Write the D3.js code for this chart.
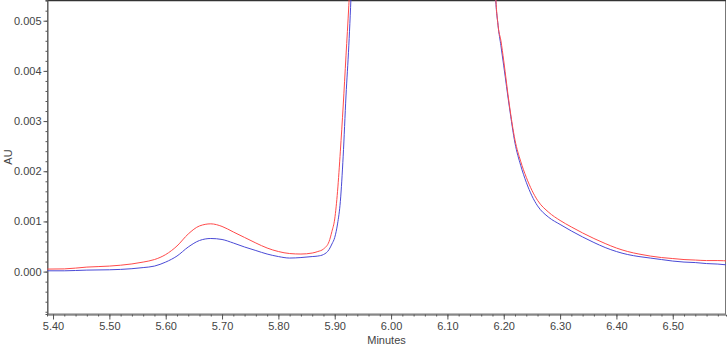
<!DOCTYPE html>
<html>
<head>
<meta charset="utf-8">
<script src="https://cdn.jsdelivr.net/npm/d3@7"></script>
<style>
  body { margin: 0; background: #fff; }
  svg { display: block; }
  .tick text { font-family: "Liberation Sans", Arial, sans-serif; font-size: 11px; fill: #444; }
  .label { font-family: "Liberation Sans", Arial, sans-serif; font-size: 11px; fill: #444; }
</style>
</head>
<body>
<svg width="727" height="346"></svg>
<script>
const svg = d3.select('svg');

// retention time (minutes)
const times = [5.39, 5.42, 5.46, 5.50, 5.54, 5.56, 5.58, 5.60, 5.62, 5.64, 5.66, 5.68, 5.70,
  5.72, 5.74, 5.76, 5.78, 5.80, 5.82, 5.84, 5.86, 5.87, 5.88, 5.89, 5.895, 5.90, 5.905,
  5.91, 5.915, 5.92, 5.925, 5.93, 5.94, 5.96, 6.00, 6.05, 6.10, 6.15, 6.17, 6.18, 6.185,
  6.19, 6.195, 6.20, 6.21, 6.22, 6.23, 6.24, 6.25, 6.26, 6.28, 6.30, 6.32, 6.34, 6.36,
  6.38, 6.40, 6.42, 6.44, 6.46, 6.48, 6.50, 6.52, 6.54, 6.56, 6.58, 6.60];

// absorbance (AU)
const redAU = [0.00005, 0.000054, 0.00009, 0.00011, 0.000153, 0.00019, 0.00024, 0.00034, 0.00051,
  0.00075, 0.00091, 0.000952, 0.0009, 0.00079, 0.00068, 0.00057, 0.00047, 0.0004, 0.00036,
  0.00035, 0.00037, 0.0004, 0.00045, 0.0006, 0.0008, 0.00105, 0.0016, 0.0024, 0.0033,
  0.0043, 0.0053, 0.0065, 0.012, 0.03, 0.06, 0.07, 0.05, 0.02, 0.012, 0.008, 0.0057,
  0.0049, 0.0046, 0.0042, 0.00332, 0.00262, 0.0022, 0.00188, 0.00162, 0.00142, 0.00118,
  0.00102, 0.00089, 0.00077, 0.00066, 0.00056, 0.00047, 0.0004, 0.00035, 0.00031, 0.00028,
  0.00026, 0.00024, 0.00023, 0.00022, 0.00022, 0.00021];

const blueAU = [0.000016, 0.000016, 0.00003, 0.000036, 0.000058, 0.00008, 0.00011, 0.00019, 0.00031,
  0.00049, 0.00062, 0.00066, 0.00064, 0.00057, 0.00049, 0.00042, 0.00035, 0.0003, 0.00027,
  0.00028, 0.0003, 0.00031, 0.00034, 0.00044, 0.00055, 0.00068, 0.00095, 0.0014, 0.0023,
  0.0035, 0.0045, 0.0058, 0.010, 0.028, 0.06, 0.07, 0.05, 0.02, 0.012, 0.008, 0.0056,
  0.0049, 0.0045, 0.0041, 0.00328, 0.00256, 0.00212, 0.00178, 0.00151, 0.00131, 0.00108,
  0.00094, 0.00081, 0.00069, 0.00058, 0.00048, 0.0004, 0.00034, 0.0003, 0.00027, 0.00024,
  0.00021, 0.00019, 0.00018, 0.00016, 0.00015, 0.00013];

const yMajor = [0, 0.001, 0.002, 0.003, 0.004, 0.005];
const xMajor = [5.4, 5.5, 5.6, 5.7, 5.8, 5.9, 6.0, 6.1, 6.2, 6.3, 6.4, 6.5];

// plot area
const plotLeft = 47, plotRight = 726, plotTop = 0, plotBottom = 314;

const x = d3.scaleLinear().domain([5.3893, 6.5945]).range([plotLeft, plotRight]);
const y = d3.scaleLinear().domain([-0.000845, 0.005413]).range([plotBottom, plotTop]);

const yMinor = d3.range(-8, 55, 2).map(d => d / 10000);
const xMinor = d3.range(540, 660, 2).map(d => d / 100);

svg.append('defs').append('clipPath').attr('id', 'plot')
  .append('rect')
  .attr('x', plotLeft).attr('y', plotTop)
  .attr('width', plotRight - plotLeft).attr('height', plotBottom - plotTop);

// frame
svg.append('rect')
  .attr('x', plotLeft + 0.5).attr('y', 0.5)
  .attr('width', plotRight - plotLeft - 1).attr('height', plotBottom - 0.5)
  .attr('fill', 'none')
  .attr('stroke', '#777');
svg.append('line')
  .attr('x1', plotLeft).attr('x2', plotRight).attr('y1', 0.5).attr('y2', 0.5)
  .attr('stroke', '#333').attr('stroke-width', 1.5);

// y axis
svg.append('g')
  .attr('transform', `translate(${plotLeft + 0.5},0)`)
  .call(d3.axisLeft(y).tickValues(yMinor).tickSize(2).tickFormat(''))
  .call(g => g.selectAll('line, path').attr('stroke', '#555'));
svg.append('g')
  .attr('transform', `translate(${plotLeft + 0.5},0)`)
  .call(d3.axisLeft(y).tickValues(yMajor).tickSize(4).tickPadding(2).tickFormat(d3.format('.3f')))
  .call(g => g.select('.domain').remove())
  .call(g => g.selectAll('line').attr('stroke', '#555'));

// x axis
svg.append('g')
  .attr('transform', `translate(0,${plotBottom + 0.5})`)
  .call(d3.axisBottom(x).tickValues(xMinor.filter(d => x(d) <= plotRight)).tickSize(2).tickFormat(''))
  .call(g => g.selectAll('line, path').attr('stroke', '#555'));
svg.append('g')
  .attr('transform', `translate(0,${plotBottom + 0.5})`)
  .call(d3.axisBottom(x).tickValues(xMajor).tickSize(5).tickPadding(3).tickFormat(d3.format('.2f')))
  .call(g => g.select('.domain').remove())
  .call(g => g.selectAll('line').attr('stroke', '#555'));

// axis titles
svg.append('text')
  .attr('class', 'label')
  .attr('text-anchor', 'middle')
  .attr('transform', `translate(12,${(plotTop + plotBottom) / 2}) rotate(-90)`)
  .text('AU');

svg.append('text')
  .attr('class', 'label')
  .attr('text-anchor', 'middle')
  .attr('x', (plotLeft + plotRight) / 2)
  .attr('y', 344)
  .text('Minutes');

// traces
const traces = svg.append('g').attr('clip-path', 'url(#plot)');

const line = vals => d3.line()
  .x((d, i) => x(times[i]))
  .y(d => y(d))
  .curve(d3.curveMonotoneX)(vals);

traces.append('path')
  .attr('d', line(blueAU))
  .attr('fill', 'none')
  .attr('stroke', '#4a4ad6')
  .attr('stroke-width', 1);

traces.append('path')
  .attr('d', line(redAU))
  .attr('fill', 'none')
  .attr('stroke', '#ff4a4a')
  .attr('stroke-width', 1);
</script>
</body>
</html>
